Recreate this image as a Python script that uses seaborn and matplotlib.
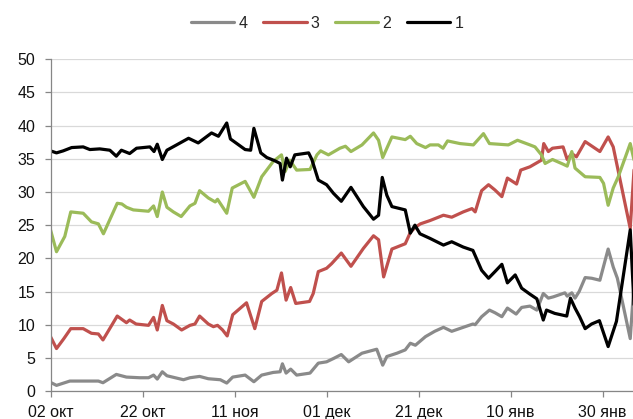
import seaborn as sns
import matplotlib.pyplot as plt
import pandas as pd

# day offsets from 02 окт and values
days_1 = [0, 1.3, 2.75, 4.6, 7.1, 8.55, 10.7, 12.9, 14.3, 15.4, 17.2, 18.7, 21.6, 22.5, 23.2, 24.3, 25.3,
          27.4, 30, 32.1, 35, 36.5, 38.3, 39.1, 40.5, 42.3, 43.5, 44.2, 45.7, 47, 48.8, 49.9, 50.4, 51.3,
          52.1, 53.1, 56.1, 56.8, 58.2, 60, 61.5, 63.2, 65.3, 68, 70.2, 71.3, 72.1, 73.1, 74.2, 77.1, 78.2,
          79.2, 80.3, 82.5, 85.4, 87.2, 89.7, 91.8, 93.7, 95.2, 96.6, 98.1, 99.3, 101, 102.4, 104.2, 105.7,
          107.1, 107.8, 109.6, 112.2, 113, 114, 115, 116.2, 117.6, 119.3, 121.2, 123, 126, 127]
vals_1 = [36.2, 35.9, 36.2, 36.7, 36.8, 36.4, 36.5, 36.3, 35.4, 36.3, 35.8, 36.6, 36.8, 36.1, 37.2, 34.9, 36.3,
          37.1, 38.1, 37.4, 38.9, 38.4, 40.4, 38.0, 37.3, 36.4, 36.3, 39.6, 35.9, 35.2, 34.7, 34.3, 31.8, 35.1,
          33.8, 35.6, 35.9, 34.9, 31.8, 31.1, 29.8, 28.6, 30.7, 27.8, 25.9, 26.5, 32.2, 29.5, 27.8, 27.3, 23.8,
          25.0, 23.7, 23.0, 22.0, 22.5, 21.7, 21.2, 18.2, 17.0, 18.0, 19.1, 16.3, 17.5, 15.5, 14.6, 13.9,
          10.7, 12.2, 11.7, 11.3, 14.0, 12.5, 11.2, 9.4, 10.1, 10.6, 6.7, 10.5, 24.3, 10.5]

days_2 = [0, 1.3, 3.1, 4.4, 7.1, 8.9, 10.4, 11.5, 14.5, 15.5, 16.5, 18, 21.3, 22.4, 23.2, 24.3, 25.3, 26.7,
          28.4, 30.3, 31.4, 32.4, 34.3, 35.8, 36.3, 38.3, 39.5, 42.3, 44.2, 45.9, 48.4, 50.2, 51, 52, 53.5,
          56.4, 57.9, 58.7, 60.4, 62.9, 64.1, 65.3, 67.7, 70.2, 71.3, 72.2, 74.2, 77.1, 78.2, 79.6, 81.5,
          82.5, 84.3, 85.3, 86.3, 89, 91.9, 94.1, 95.4, 99.5, 101.5, 104.2, 105.3, 106.7, 107.5, 109.1,
          111.4, 112.3, 113.3, 114, 116.2, 119.4, 120.2, 121.2, 122.3, 123.4, 126, 127]
vals_2 = [24.3, 21.0, 23.3, 27.0, 26.8, 25.5, 25.2, 23.7, 28.3, 28.2, 27.7, 27.3, 27.1, 27.9, 26.3, 30.0, 27.7,
          27.0, 26.3, 27.9, 28.3, 30.2, 29.1, 28.5, 28.9, 26.8, 30.6, 31.6, 29.2, 32.3, 34.6, 35.6, 33.1, 34.8,
          33.3, 33.4, 35.6, 36.2, 35.6, 36.6, 36.9, 36.1, 37.1, 38.9, 37.8, 35.2, 38.3, 37.9, 38.4, 37.3, 36.7,
          37.1, 37.1, 36.6, 37.7, 37.3, 37.1, 38.8, 37.3, 37.1, 37.8, 37.1, 36.8, 35.6, 34.3, 34.9, 34.2,
          33.9, 36.1, 33.6, 32.3, 32.2, 31.3, 28.0, 30.6, 32.3, 37.3, 34.3]

days_3 = [0, 1.3, 2.9, 4.4, 7.1, 8.9, 10.4, 11.4, 14.5, 16.5, 17.2, 18.6, 21.3, 22.4, 23.2, 24.3, 25.3, 26.7,
          28.5, 30.3, 31.4, 32.4, 34.3, 35.4, 36.3, 37.4, 38.4, 39.6, 42.6, 44.4, 45.9, 48.1, 49.2, 50.2, 51.2,
          52.2, 53.3, 56.3, 57.1, 58.2, 60, 61.1, 63.2, 65.3, 68, 70.2, 71.3, 72.4, 74.2, 77.1, 78.2, 79.3,
          80.4, 82.5, 85.4, 87.2, 89.7, 91.6, 92.3, 93.7, 95.2, 96.6, 98.1, 99.3, 101.3, 102.2, 104.2, 106.7,
          107.2, 108.2, 109.1, 111.4, 112.3, 113.3, 114.3, 116.2, 119.4, 121.2, 122.3, 126, 127]
vals_3 = [8.2, 6.4, 7.9, 9.4, 9.4, 8.7, 8.6, 7.7, 11.3, 10.3, 10.7, 10.1, 9.9, 11.1, 9.2, 12.9, 10.6, 10.1,
          9.2, 9.9, 10.1, 11.3, 10.1, 9.7, 9.9, 9.2, 8.3, 11.5, 13.3, 9.4, 13.5, 14.7, 15.2, 17.8, 13.7,
          15.6, 13.2, 13.5, 14.7, 18.0, 18.5, 19.2, 20.8, 18.8, 21.5, 23.4, 22.8, 17.2, 21.4, 22.2, 23.9, 24.7,
          25.2, 25.7, 26.5, 26.2, 27.0, 27.5, 27.0, 30.2, 31.1, 30.3, 29.3, 32.1, 31.2, 33.3, 33.8, 34.8,
          37.3, 36.1, 36.6, 36.8, 34.9, 35.8, 35.3, 37.6, 36.1, 38.3, 36.8, 24.5, 35.3]

days_4 = [0, 1.3, 4.2, 10.4, 11.4, 14.3, 16.5, 19.4, 21.3, 22.4, 23.2, 24.3, 25.3, 28.9, 30.3, 32.4, 34.3,
          36.9, 38.3, 39.6, 42.3, 44.2, 45.9, 48.4, 49.9, 50.4, 51.2, 52.2, 53.5, 56.4, 58.2, 60, 61.5, 63.2,
          64.8, 67.7, 70.9, 72.2, 73.1, 75.3, 77.1, 78.2, 79.3, 81.5, 83.5, 85.4, 87.2, 89.7, 91.8, 92.3,
          93.7, 95.4, 96.6, 98.1, 99.3, 101.2, 102.4, 104.2, 105.7, 107.1, 108.2, 109.3, 111.8, 112.3,
          113.3, 114, 114.9, 116.2, 117.6, 119.4, 121.2, 122.3, 123.2, 126, 127]
vals_4 = [1.3, 0.85, 1.5, 1.5, 1.25, 2.5, 2.1, 2.0, 2.0, 2.4, 1.8, 2.9, 2.3, 1.7, 2.0, 2.2, 1.85,
          1.7, 1.2, 2.1, 2.4, 1.4, 2.4, 2.8, 2.9, 4.1, 2.7, 3.3, 2.4, 2.7, 4.2, 4.4, 4.9, 5.5,
          4.4, 5.7, 6.3, 3.9, 5.2, 5.7, 6.2, 7.2, 6.9, 8.2, 9.0, 9.6, 9.0, 9.6, 10.1, 10.0,
          11.2, 12.2, 11.8, 11.2, 12.5, 11.6, 12.6, 12.8, 12.2, 14.7, 14.0, 14.2, 14.8, 14.3,
          14.8, 14.0, 15.0, 17.1, 17.0, 16.7, 21.4, 18.7, 17.0, 7.9, 18.0]

series_names = ["4", "3", "2", "1"]
colors = ["#8a8a8a", "#c0504d", "#9bbb59", "#000000"]
tick_days = [0, 20, 40, 60, 80, 100, 120]
tick_labels = ["02 окт", "22 окт", "11 ноя", "01 дек", "21 дек", "10 янв", "30 янв"]

frames = []
for name, d, v in [("1", days_1, vals_1), ("2", days_2, vals_2),
                   ("3", days_3, vals_3), ("4", days_4, vals_4)]:
    frames.append(pd.DataFrame({"day": d, "value": v, "series": name}))
df = pd.concat(frames, ignore_index=True)

sns.set_style("white")
plt.rcParams["font.family"] = ["Liberation Sans", "DejaVu Sans"]

fig = plt.figure(figsize=(6.33, 4.19), dpi=100)
ax = fig.add_axes([0.0798, 0.0668, 0.9202, 0.7916])

sns.lineplot(data=df, x="day", y="value", hue="series", hue_order=series_names,
             palette=colors, estimator=None, sort=True, linewidth=2.3,
             solid_joinstyle="round", solid_capstyle="round", ax=ax)

ax.set_xlim(0, 126.6)
ax.set_ylim(0, 50)
ax.set_yticks(range(0, 51, 5))
ax.set_xticks(tick_days)
ax.set_xticklabels(tick_labels)
ax.set_xlabel("")
ax.set_ylabel("")
ax.grid(axis="y", color="#d9d9d9", linewidth=0.9)
ax.set_axisbelow(True)
for s in ["top", "right"]:
    ax.spines[s].set_visible(False)
for s in ["left", "bottom"]:
    ax.spines[s].set_color("#868686")
    ax.spines[s].set_linewidth(0.9)
ax.tick_params(axis="x", length=4, width=0.9, color="#868686", pad=6, labelsize=11.5, labelcolor="#111111", bottom=True)
ax.tick_params(axis="y", length=4, width=0.9, color="#868686", pad=7, labelsize=11.5, labelcolor="#111111", left=True)

handles, labels = ax.get_legend_handles_labels()
ax.get_legend().remove()
fig.legend(handles, labels, loc="center", bbox_to_anchor=(0.517, 0.945), ncol=4, frameon=False,
           fontsize=11.5, handlelength=2.7, handletextpad=0.25, columnspacing=1.0)

plt.savefig("out.png", dpi=100)
